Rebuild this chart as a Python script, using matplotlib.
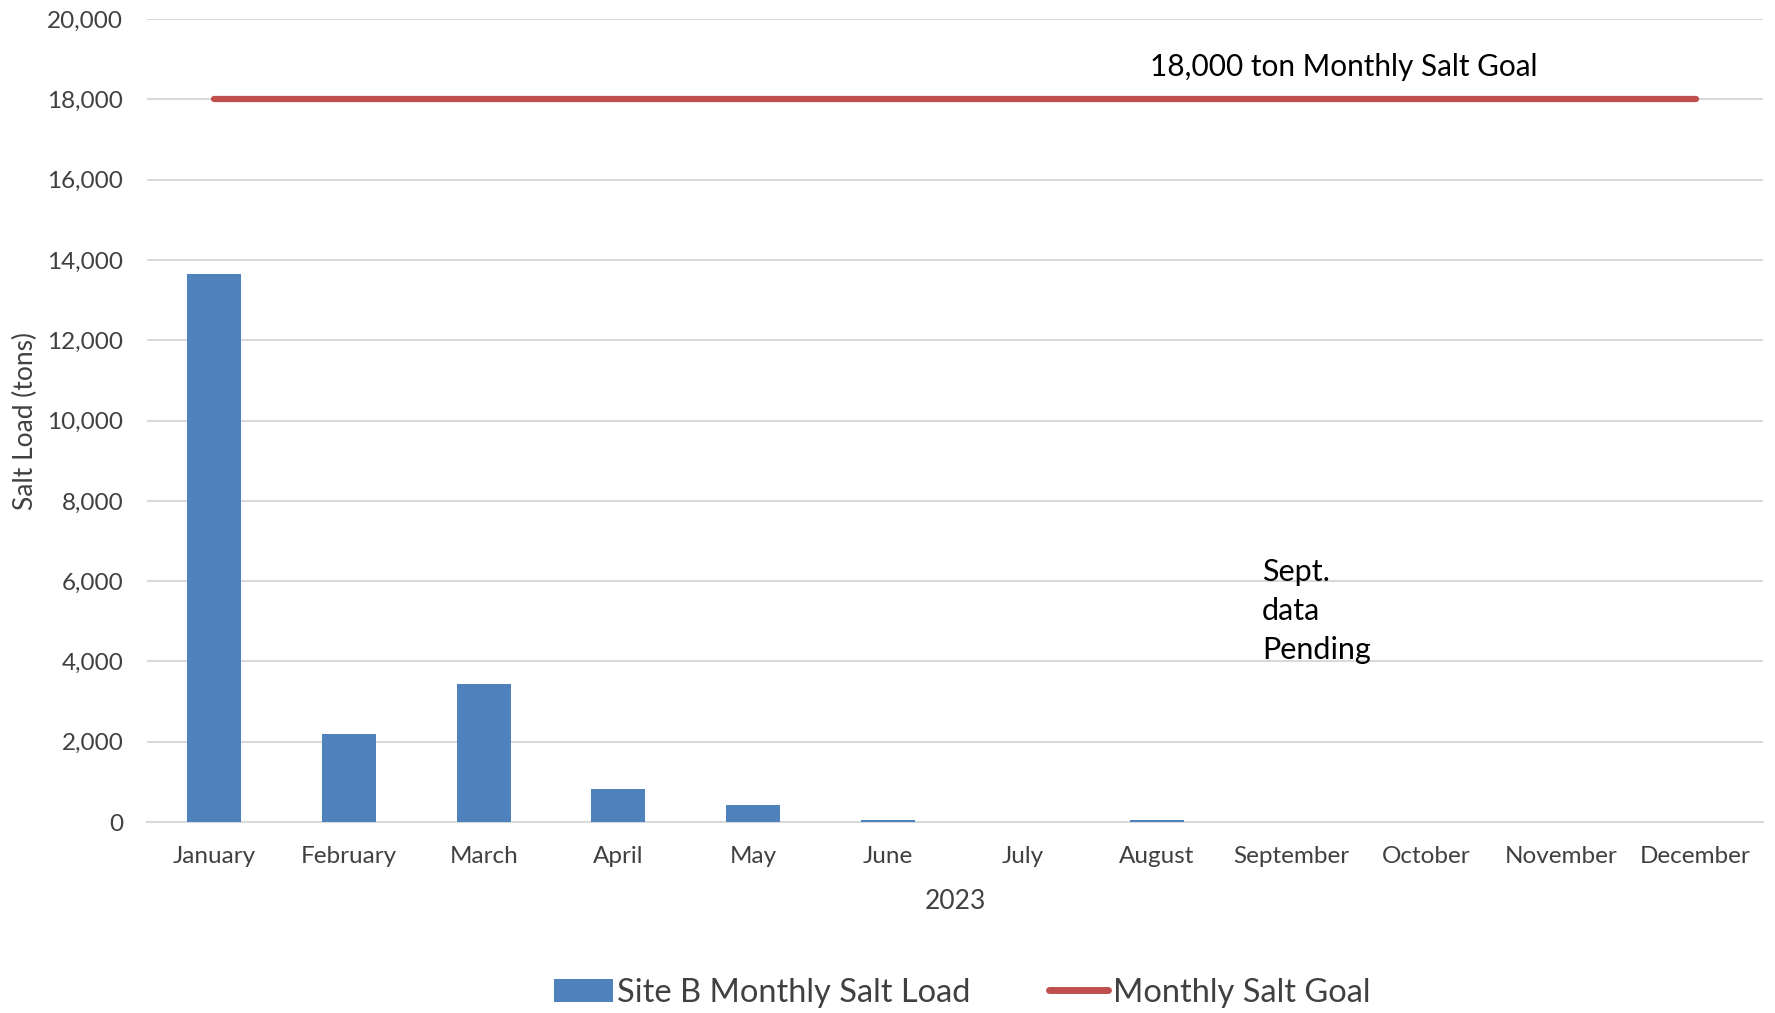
import matplotlib
matplotlib.use("Agg")
import matplotlib.pyplot as plt
from matplotlib.lines import Line2D
from matplotlib.patches import Patch
from matplotlib.ticker import FuncFormatter

plt.rcParams['font.family'] = ['Lato', 'DejaVu Sans']

months = ["January", "February", "March", "April", "May", "June", "July",
          "August", "September", "October", "November", "December"]
salt_load = [13650, 2200, 3445, 820, 425, 50, 10, 50, 0, 0, 0, 0]
goal = [18000] * 12

bar_color = "#4F81BD"
line_color = "#C0504D"
text_color = "#404040"
grid_color = "#D9D9D9"

fig = plt.figure(figsize=(17.75, 10.13), dpi=100)
ax = fig.add_axes([0.0828, 0.1885, 0.9104, 0.7927])

x = list(range(len(months)))
ax.bar(x, salt_load, width=0.4, color=bar_color, zorder=3)
ax.plot(x, goal, color=line_color, linewidth=4.5, solid_capstyle='round', zorder=4)

ax.set_xlim(-0.5, 11.5)
ax.set_ylim(0, 20000)
ax.set_yticks(range(0, 20001, 2000))
ax.yaxis.set_major_formatter(FuncFormatter(lambda v, p: f"{int(v):,}"))
ax.set_xticks(x)
ax.set_xticklabels(months)
ax.grid(axis='y', color=grid_color, linewidth=1.5, zorder=0)
ax.set_axisbelow(True)
for s in ['top', 'right', 'left']:
    ax.spines[s].set_visible(False)
ax.spines['bottom'].set_color(grid_color)
ax.spines['bottom'].set_linewidth(1.5)
ax.tick_params(axis='both', length=0, labelsize=17.5, colors=text_color)
ax.tick_params(axis='x', pad=17)
ax.tick_params(axis='y', pad=17)

ax.set_xlabel("2023", fontsize=19, color=text_color, labelpad=16)
ax.set_ylabel("Salt Load (tons)", fontsize=19, color=text_color, labelpad=7)

ax.text(8.39, 18815, "18,000 ton Monthly Salt Goal", fontsize=21.4, color='black',
        ha='center', va='center')
ax.text(7.78, 5255, "Sept.\ndata\nPending", fontsize=22, color='black',
        ha='left', va='center', linespacing=1.49)

handles = [Patch(facecolor=bar_color, edgecolor='none'),
           Line2D([0], [0], color=line_color, linewidth=5, solid_capstyle='round')]
fig.legend(handles, ["Site B Monthly Salt Load", "Monthly Salt Goal"],
           loc='center', bbox_to_anchor=(0.542, 0.020), ncol=2, frameon=False,
           fontsize=23.5, handlelength=1.8, handletextpad=0.15, columnspacing=2.4,
           labelcolor=text_color)

fig.savefig("out.png", dpi=100)
